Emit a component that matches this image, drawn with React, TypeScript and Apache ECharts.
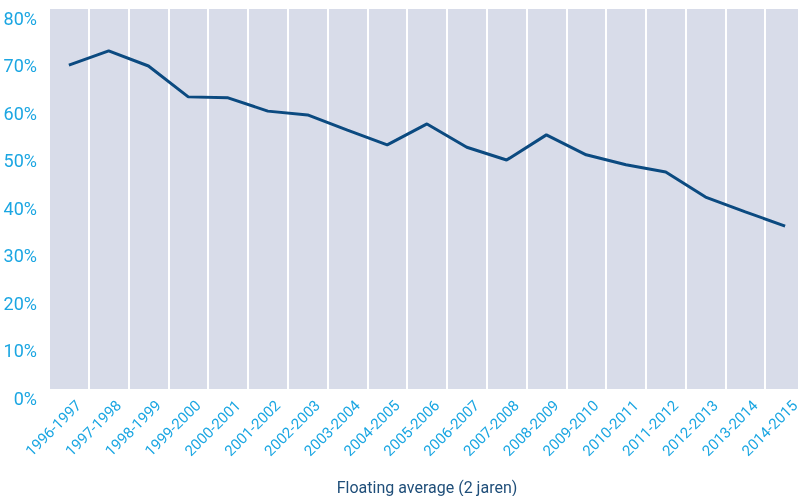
import React, { useEffect, useRef } from "react";
import * as echarts from "echarts";

const categories = [
  "1996-1997", "1997-1998", "1998-1999", "1999-2000", "2000-2001", "2001-2002",
  "2002-2003", "2003-2004", "2004-2005", "2005-2006", "2006-2007", "2007-2008",
  "2008-2009", "2009-2010", "2010-2011", "2011-2012", "2012-2013", "2013-2014",
  "2014-2015",
];
const values = [
  68.2, 71.2, 68.0, 61.5, 61.3, 58.5, 57.7, 54.5, 51.4, 55.8, 50.9, 48.2,
  53.5, 49.3, 47.2, 45.7, 40.4, 37.3, 34.3,
];
const axisTitle = "Floating average (2 jaren)";

const FONT = "Roboto, sans-serif";
const LABEL = "#1ba6e2";

export default function App() {
  const ref = useRef<HTMLDivElement>(null);
  useEffect(() => {
    if (!ref.current) return;
    const chart = echarts.init(ref.current, null, { renderer: "svg" });
    chart.setOption({
      animation: false,
      grid: {
        left: 49,
        top: 9,
        width: 756,
        height: 380,
        show: true,
        backgroundColor: "#d8dce9",
        borderWidth: 0,
        containLabel: false,
        outerBoundsMode: "none",
      },
      xAxis: {
        type: "category",
        data: categories,
        boundaryGap: true,
        axisLine: { show: false },
        axisTick: { show: false },
        splitLine: { show: true, lineStyle: { color: "#ffffff", width: 2 } },
        axisLabel: {
          rotate: 45,
          interval: 0,
          margin: 4,
          fontSize: 15,
          lineHeight: 28,
          verticalAlign: "top",
          color: LABEL,
          fontFamily: FONT,
        },
        name: axisTitle,
        nameLocation: "middle",
        nameGap: 90,
        nameTextStyle: { fontSize: 16, color: "#1f4e79", fontFamily: FONT },
      },
      yAxis: {
        type: "value",
        min: 0,
        max: 80,
        interval: 10,
        axisLine: { show: false },
        axisTick: { show: false },
        splitLine: { show: false },
        axisLabel: {
          formatter: "{value}%",
          fontSize: 18,
          color: LABEL,
          fontFamily: FONT,
          verticalAlign: "top",
          margin: 12,
        },
      },
      series: [
        {
          type: "line",
          data: values,
          symbol: "none",
          lineStyle: { color: "#0b4a80", width: 3 },
        },
      ],
    });
    return () => chart.dispose();
  }, []);
  return (
    <div
      ref={ref}
      style={{ position: "fixed", left: 0, top: 0, width: 798, height: 496 }}
    />
  );
}
